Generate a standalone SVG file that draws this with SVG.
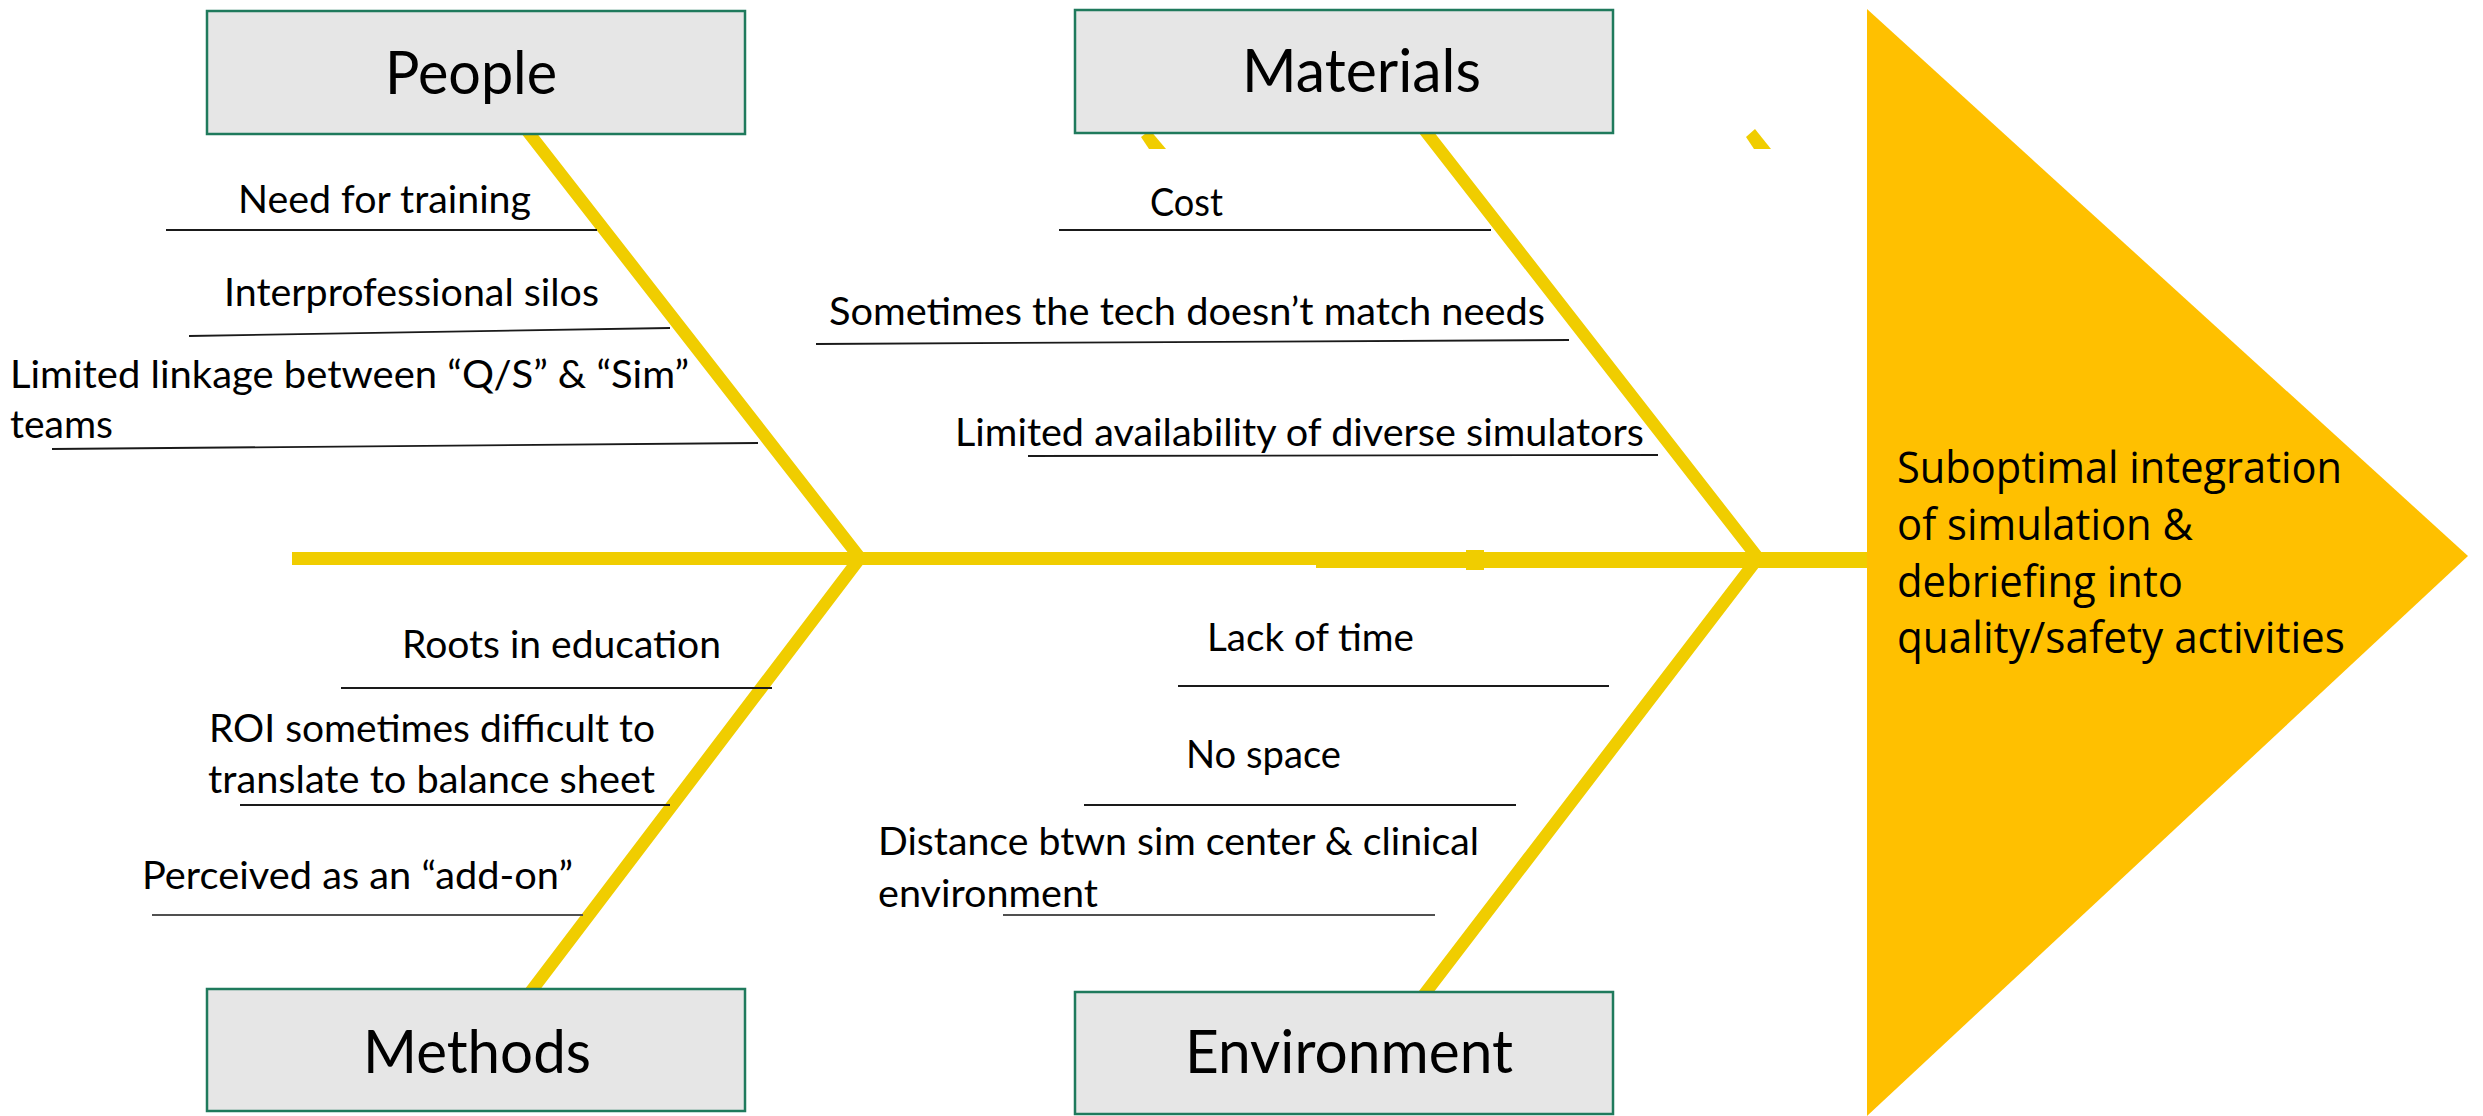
<svg xmlns="http://www.w3.org/2000/svg" width="2483" height="1116" viewBox="0 0 2483 1116">
  <style>
    .bone { fill: none; stroke: #F0CD00; stroke-width: 12.5; stroke-linejoin: miter; stroke-miterlimit: 10; }
    .frag { fill: #F0CD00; }
    .spine { fill: #F0CD00; }
    .cat rect { fill: #E6E6E6; stroke: #1F7A5C; stroke-width: 2.5; }
    .cat-label { font-family: Lato, "Noto Sans", sans-serif; font-size: 60px; fill: #000; }
    .cause { font-family: Lato, "Noto Sans", sans-serif; font-size: 39.5px; fill: #000; }
    .rule { stroke: #1a1a1a; stroke-width: 1.8; fill: none; }
    .rule-soft { stroke: #505050; stroke-width: 2; fill: none; }
    .effect-text { font-family: "Open Sans", "Noto Sans", sans-serif; font-size: 43px; fill: #000; }
  </style>

  <rect width="2483" height="1116" fill="#FFFFFF"/>

  <!-- spine and category bones -->
  <g id="connectors">
    <rect class="spine" x="292" y="552" width="1024" height="13"/>
    <rect class="spine" x="1316" y="552" width="553" height="16"/>
    <rect class="spine" x="1466" y="550" width="18" height="20"/>
    <polyline class="bone" points="525,128 860,558 529,994"/>
    <polyline class="bone" points="1423,128 1758,558 1423,996"/>
    <!-- short stray bone ends under the Materials box -->
    <polygon class="frag" points="1141,137 1150,130 1166,149 1149,149"/>
    <polygon class="frag" points="1746,137 1755,129 1771,149 1754,149"/>
  </g>

  <!-- effect head -->
  <g id="node-effect">
    <polygon points="1867,9 2468,556 1867,1116" fill="#FFC000"/>
    <text class="effect-text" x="1897" y="483" textLength="445" lengthAdjust="spacingAndGlyphs">Suboptimal integration</text>
    <text class="effect-text" x="1897" y="540" textLength="296" lengthAdjust="spacingAndGlyphs">of simulation &amp;</text>
    <text class="effect-text" x="1897" y="597" textLength="286" lengthAdjust="spacingAndGlyphs">debriefing into</text>
    <text class="effect-text" x="1897" y="653" textLength="448" lengthAdjust="spacingAndGlyphs">quality/safety activities</text>
  </g>

  <!-- People -->
  <g id="node-people" class="cat">
    <rect x="207" y="11" width="538" height="123"/>
    <text class="cat-label" x="385" y="94" textLength="172" lengthAdjust="spacingAndGlyphs">People</text>
    <g id="cause-training">
      <text class="cause" x="238" y="213" textLength="293" lengthAdjust="spacingAndGlyphs">Need for training</text>
      <line class="rule" x1="166" y1="230" x2="597" y2="230"/>
    </g>
    <g id="cause-silos">
      <text class="cause" x="224" y="306" textLength="375" lengthAdjust="spacingAndGlyphs">Interprofessional silos</text>
      <line class="rule" x1="189" y1="336" x2="670" y2="328"/>
    </g>
    <g id="cause-linkage">
      <text class="cause" x="10" y="388" textLength="679" lengthAdjust="spacingAndGlyphs">Limited linkage between “Q/S” &amp; “Sim”</text>
      <text class="cause" x="10" y="438" textLength="103" lengthAdjust="spacingAndGlyphs">teams</text>
      <line class="rule" x1="52" y1="449" x2="758" y2="443"/>
    </g>
  </g>

  <!-- Materials -->
  <g id="node-materials" class="cat">
    <rect x="1075" y="10" width="538" height="123"/>
    <text class="cat-label" x="1242" y="92" textLength="239" lengthAdjust="spacingAndGlyphs">Materials</text>
    <g id="cause-cost">
      <text class="cause" x="1150" y="216" textLength="73" lengthAdjust="spacingAndGlyphs">Cost</text>
      <line class="rule" x1="1059" y1="230" x2="1491" y2="230"/>
    </g>
    <g id="cause-tech">
      <text class="cause" x="829" y="325" textLength="716" lengthAdjust="spacingAndGlyphs">Sometimes the tech doesn’t match needs</text>
      <line class="rule" x1="816" y1="344" x2="1569" y2="340"/>
    </g>
    <g id="cause-simulators">
      <text class="cause" x="955" y="446" textLength="689" lengthAdjust="spacingAndGlyphs">Limited availability of diverse simulators</text>
      <line class="rule" x1="1028" y1="456" x2="1658" y2="455"/>
    </g>
  </g>

  <!-- Methods -->
  <g id="node-methods" class="cat">
    <rect x="207" y="989" width="538" height="122"/>
    <text class="cat-label" x="363" y="1073" textLength="228" lengthAdjust="spacingAndGlyphs">Methods</text>
    <g id="cause-roots">
      <text class="cause" x="402" y="658" textLength="319" lengthAdjust="spacingAndGlyphs">Roots in education</text>
      <line class="rule" x1="341" y1="688" x2="772" y2="688"/>
    </g>
    <g id="cause-roi">
      <text class="cause" x="209" y="742" textLength="446" lengthAdjust="spacingAndGlyphs">ROI sometimes difficult to</text>
      <text class="cause" x="208" y="793" textLength="447" lengthAdjust="spacingAndGlyphs">translate to balance sheet</text>
      <line class="rule" x1="240" y1="805" x2="670" y2="805"/>
    </g>
    <g id="cause-addon">
      <text class="cause" x="142" y="889" textLength="431" lengthAdjust="spacingAndGlyphs">Perceived as an “add-on”</text>
      <line class="rule-soft" x1="152" y1="915" x2="583" y2="915"/>
    </g>
  </g>

  <!-- Environment -->
  <g id="node-environment" class="cat">
    <rect x="1075" y="992" width="538" height="122"/>
    <text class="cat-label" x="1185" y="1073" textLength="328" lengthAdjust="spacingAndGlyphs">Environment</text>
    <g id="cause-time">
      <text class="cause" x="1207" y="651" textLength="207" lengthAdjust="spacingAndGlyphs">Lack of time</text>
      <line class="rule" x1="1178" y1="686" x2="1609" y2="686"/>
    </g>
    <g id="cause-space">
      <text class="cause" x="1186" y="768" textLength="155" lengthAdjust="spacingAndGlyphs">No space</text>
      <line class="rule" x1="1084" y1="805" x2="1516" y2="805"/>
    </g>
    <g id="cause-distance">
      <text class="cause" x="878" y="855" textLength="601" lengthAdjust="spacingAndGlyphs">Distance btwn sim center &amp; clinical</text>
      <text class="cause" x="878" y="907" textLength="220" lengthAdjust="spacingAndGlyphs">environment</text>
      <line class="rule-soft" x1="1003" y1="915" x2="1435" y2="915"/>
    </g>
  </g>
</svg>
